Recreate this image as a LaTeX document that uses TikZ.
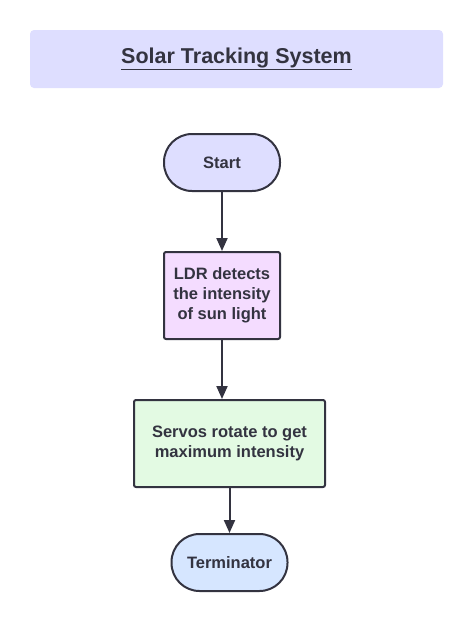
\documentclass[tikz,border=0pt]{standalone}
\usepackage{fontspec}
\setmainfont{Liberation Sans}
\usetikzlibrary{positioning,arrows.meta}
\definecolor{mylav}{RGB}{222,222,255}
\definecolor{mypink}{RGB}{244,220,255}
\definecolor{mygreen}{RGB}{227,250,227}
\definecolor{myblue}{RGB}{214,230,255}
\definecolor{myink}{RGB}{51,51,64}

\begin{document}
\begin{tikzpicture}[x=1pt,y=-1pt,font=\bfseries\fontsize{16.5}{20}\selectfont,text=myink,
  termnode/.style={rectangle,draw=myink,line width=2pt,rounded corners=28pt,
    minimum width=116pt,minimum height=57pt},
  procnode/.style={rectangle,draw=myink,line width=2pt,rounded corners=2pt,
    align=center,minimum height=87pt},
  flow/.style={draw=myink,line width=2pt,-{Triangle[length=13pt,width=11pt]}}]

  \useasboundingbox (0,0) rectangle (474,622);

  % title bar
  \node[fill=mylav,rounded corners=4pt,minimum width=413pt,minimum height=58pt,
    font=\bfseries\fontsize{21.5}{25}\selectfont] (title) at (236.5,59) {\underline{Solar Tracking System}};

  % flow chart
  \node[termnode,fill=mylav] (start) at (222,162.5) {Start};
  \node[procnode,fill=mypink,minimum width=116pt,below=59pt of start] (ldr)
    {LDR detects\\the intensity\\of sun light};
  \node[procnode,fill=mygreen,minimum width=191pt,below=59pt of ldr,xshift=7.5pt] (servo)
    {Servos rotate to get\\maximum intensity};
  \node[termnode,fill=myblue,below=45pt of servo] (term) {Terminator};

  \draw[flow] (start) -- (ldr);
  \draw[flow] (ldr.south) -- (ldr.south |- servo.north);
  \draw[flow] (servo) -- (term);

\end{tikzpicture}
\end{document}
